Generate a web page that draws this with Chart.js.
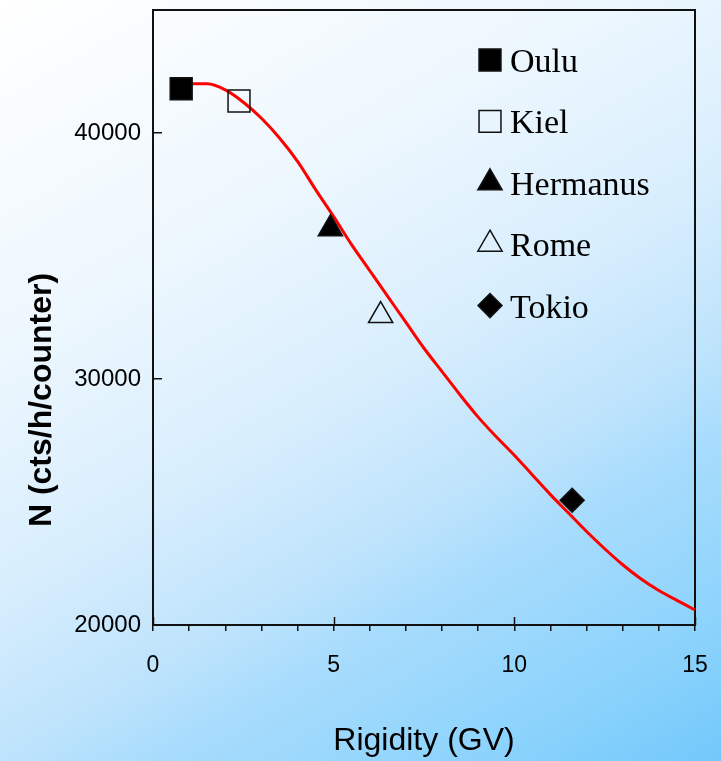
<!DOCTYPE html>
<html>
<head>
<meta charset="utf-8">
<script src="https://cdn.jsdelivr.net/npm/chart.js@4/dist/chart.umd.min.js"></script>
<style>
  html, body { margin: 0; padding: 0; }
  body {
    width: 721px; height: 761px; overflow: hidden;
    background: linear-gradient(150deg, #ffffff 0%, #edf7fe 30%, #d8eefd 50%, #bde3fc 65%, #a8dcfc 72%, #8cd3fc 88%, #72c8fb 100%);
  }
  #wrap { position: relative; width: 721px; height: 761px; }
</style>
</head>
<body>
<div id="wrap"><canvas id="chart"></canvas></div>
<script>

	// neutron monitor stations
	var stations = ["Oulu", "Kiel", "Hermanus", "Rome", "Tokio"];
	var rigidity = [0.78, 2.38, 4.91, 6.30, 11.60];
	var counts = [41800, 41300, 36110, 32580, 25070];

	// fitted curve
	var curveX = [0.8, 1.5, 2.0, 2.5, 3.0, 3.5, 4.0, 4.5, 5.0, 5.5, 6.0, 6.5, 7.0, 7.5, 8.0, 8.5, 9.0, 9.5, 10.0, 10.5, 11.0, 11.5, 12.0, 12.5, 13.0, 13.5, 14.0, 14.5, 15.0, 15.35];
	var curveY = [42000, 42000, 41750, 41250, 40600, 39800, 38850, 37700, 36600, 35450, 34400, 33350, 32300, 31250, 30300, 29350, 28450, 27650, 26900, 26100, 25300, 24550, 23800, 23100, 22450, 21880, 21400, 21000, 20610, 20330];

	var xTicks = [0, 5, 10, 15];
	var yTicks = [20000, 30000, 40000];

	// marker look per station
	var markers = [
		{ style: "rect", radius: 15.5, fill: "#000000" },
		{ style: "rect", radius: 15.5, fill: "rgba(0,0,0,0)" },
		{ style: "triangle", radius: 14, fill: "#000000" },
		{ style: "triangle", radius: 14, fill: "rgba(0,0,0,0)" },
		{ style: "rectRot", radius: 12, fill: "#000000" }
	];

	var datasets = stations.map(function (name, i) {
		return {
			label: name,
			data: [{ x: rigidity[i], y: counts[i] }],
			pointStyle: markers[i].style,
			pointRadius: markers[i].radius,
			backgroundColor: markers[i].fill,
			borderColor: "#111111",
			borderWidth: 1.5
		};
	});

	datasets.push({
		label: "fit",
		type: "line",
		data: curveX.map(function (x, i) { return { x: x, y: curveY[i] }; }),
		borderColor: "#ff0000",
		borderWidth: 3,
		pointRadius: 0,
		tension: 0.4,
		cubicInterpolationMode: "monotone",
		clip: false
	});

	var framePlugin = {
		id: "frame",
		beforeDatasetsDraw: function (chart) {
			var a = chart.chartArea, ctx = chart.ctx;
			ctx.save();
			ctx.strokeStyle = "#111111";
			ctx.lineWidth = 2;
			ctx.strokeRect(a.left, a.top, a.right - a.left, a.bottom - a.top);

			// major x ticks also poke into the plot
			var xs = chart.scales.x;
			ctx.lineWidth = 1.5;
			ctx.beginPath();
			xTicks.forEach(function (v) {
				var px = Math.round(xs.getPixelForValue(v)) + 0.5;
				ctx.moveTo(px, a.bottom);
				ctx.lineTo(px, a.bottom - 8);
			});
			ctx.stroke();
			ctx.restore();
		}
	};

	var legendPlugin = {
		id: "stationLegend",
		afterDraw: function (chart) {
			var a = chart.chartArea, ctx = chart.ctx;
			ctx.save();

			// y axis title
			ctx.translate(42, 400);
			ctx.rotate(-Math.PI / 2);
			ctx.font = "bold 32px 'Liberation Sans', Arial, sans-serif";
			ctx.fillStyle = "#000";
			ctx.textAlign = "center";
			ctx.textBaseline = "middle";
			ctx.fillText("N (cts/h/counter)", 0, 0);
			ctx.setTransform(1, 0, 0, 1, 0, 0);

			ctx.font = "34px 'Liberation Serif', 'Times New Roman', serif";
			ctx.textAlign = "left";
			ctx.textBaseline = "middle";
			stations.forEach(function (name, i) {
				var y = a.top + 50 + i * 61.4;
				var x = a.left + 337;
				ctx.fillStyle = markers[i].fill;
				ctx.strokeStyle = "#111111";
				ctx.lineWidth = 1.5;
				Chart.helpers.drawPoint(ctx, {
					pointStyle: markers[i].style,
					radius: markers[i].radius,
					borderWidth: 1.5,
					rotation: 0
				}, x, y);
				ctx.fillStyle = "#000";
				ctx.fillText(name, a.left + 357, y + 3);
			});
			ctx.restore();
		}
	};

	function noPadding(s) {
		s.paddingTop = 0;
		s.paddingBottom = 0;
		s.paddingLeft = 0;
		s.paddingRight = 0;
	}

	new Chart(document.getElementById("chart"), {
		type: "scatter",
		data: { datasets: datasets },
		plugins: [framePlugin, legendPlugin],
		options: {
			responsive: true,
			maintainAspectRatio: false,
			animation: false,
			layout: { autoPadding: false, padding: { top: 10, right: 26, left: 0, bottom: 0 } },
			plugins: { legend: { display: false }, tooltip: { enabled: false } },
			scales: {
				x: {
					type: "linear",
					min: 0,
					max: 15,
					afterFit: function (s) { s.height = 136; noPadding(s); },
					border: { display: true, color: "#111", width: 2 },
					grid: { drawOnChartArea: false, drawTicks: true, tickLength: 6, color: "#111", lineWidth: 1.5 },
					ticks: {
						stepSize: 1,
						padding: 21,
						color: "#000",
						font: { size: 23, family: "'Liberation Sans', Arial, sans-serif" },
						callback: function (v) { return xTicks.indexOf(v) >= 0 ? String(v) : ""; }
					},
					title: {
						display: true,
						text: "Rigidity (GV)",
						color: "#000",
						font: { size: 32, family: "'Liberation Sans', Arial, sans-serif" },
						padding: { top: 0, bottom: 1 }
					}
				},
				y: {
					type: "linear",
					min: 20000,
					max: 45000,
					afterFit: function (s) { s.width = 153; noPadding(s); },
					afterBuildTicks: function (s) {
						s.ticks = yTicks.map(function (v) { return { value: v }; });
					},
					border: { display: true, color: "#111", width: 2 },
					grid: { drawOnChartArea: false, drawTicks: true, tickLength: -9, color: "#111", lineWidth: 1.5 },
					ticks: {
						padding: 21,
						color: "#000",
						font: { size: 24, family: "'Liberation Sans', Arial, sans-serif" },
						callback: function (v) { return String(v); }
					}
				}
			}
		}
	});

</script>
</body>
</html>
